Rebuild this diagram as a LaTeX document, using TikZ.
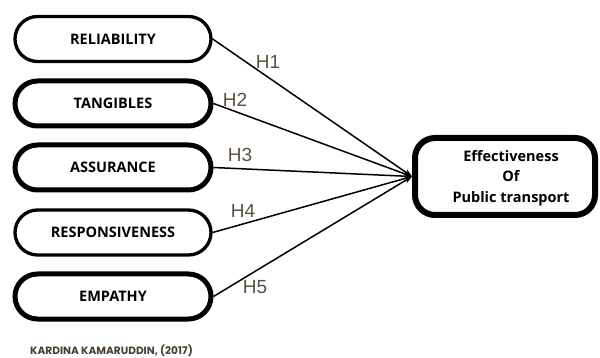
\documentclass[tikz,border=0pt]{standalone}
\usepackage{fontspec}
\setmainfont{Open Sans}
\newfontfamily\hfont{Liberation Sans}
\newfontfamily\footfont{Poppins}
\usetikzlibrary{arrows.meta}
\definecolor{hyp}{HTML}{5B5140}
\definecolor{credit}{HTML}{4A3F35}

\begin{document}
\begin{tikzpicture}[x=1pt,y=-1pt,
  factor/.style={draw=black, rounded corners=22.5pt, minimum width=196pt,
    minimum height=45pt, inner sep=0pt,
    font=\bfseries\fontsize{14.5}{17}\selectfont},
  thin border/.style={line width=3.3pt},
  thick border/.style={line width=5pt},
  outcome box/.style={draw=black, line width=6pt, rounded corners=20pt,
    minimum width=180pt, minimum height=77pt, inner sep=0pt},
  conn/.style={line width=1.5pt, -{Stealth[length=8pt,width=6pt]}},
  hyplabel/.style={text=hyp, font=\hfont\fontsize{19}{22}\selectfont, inner sep=0pt}
]
\useasboundingbox (0,0) rectangle (600,358);

% independent factors
\node[factor, thin border]  (rel)  at (113,39)    {RELIABILITY};
\node[factor, thick border] (tan)  at (113,103.5) {TANGIBLES};
\node[factor, thick border] (ass)  at (113,167.5) {ASSURANCE};
\node[factor, thin border]  (resp) at (113,232.5) {RESPONSIVENESS};
\node[factor, thick border] (emp)  at (113,296.5) {EMPATHY};

% dependent variable
\node[outcome box] (out) at (505,176.5) {};
\node[align=center, inner sep=0pt,
  font=\bfseries\fontsize{14.5}{20.5}\selectfont] (outtext) at (511,178)
  {Effectiveness\\Of\\Public transport};

% hypothesised paths
\draw[conn] (rel.east)  -- (out.west);
\draw[conn] (tan.east)  -- (out.west);
\draw[conn] (ass.east)  -- (out.west);
\draw[conn] (resp.east) -- (out.west);
\draw[conn] (emp.east)  -- (out.west);

% path labels
\node[hyplabel] (h1) at (268,62)  {H1};
\node[hyplabel] (h2) at (235,100) {H2};
\node[hyplabel] (h3) at (240,155) {H3};
\node[hyplabel] (h4) at (243,211) {H4};
\node[hyplabel] (h5) at (255,287) {H5};

% source credit
\node[anchor=base west, inner sep=0pt, text=credit,
  font=\footfont\bfseries\fontsize{10.6}{12}\selectfont] (src) at (30,354.5)
  {KARDINA KAMARUDDIN, (2017)};
\end{tikzpicture}
\end{document}
